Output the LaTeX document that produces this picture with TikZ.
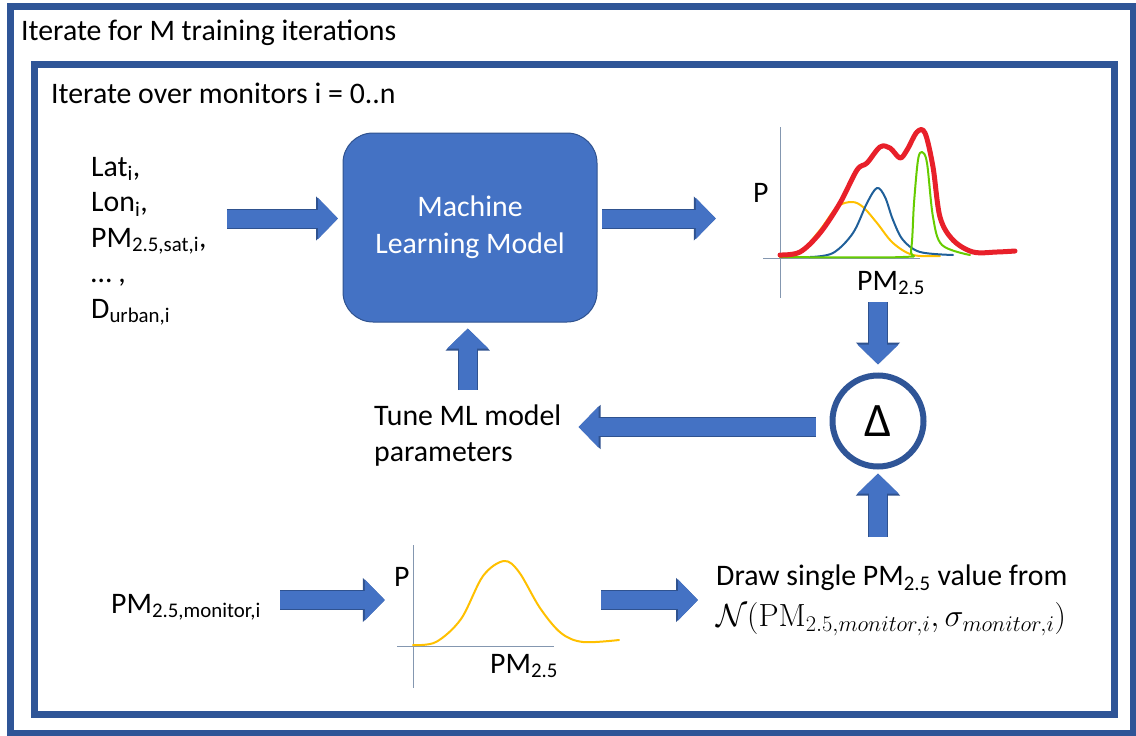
\documentclass[tikz,border=0pt]{standalone}
\usepackage{fix-cm}
\usepackage[no-math]{fontspec}
\setmainfont{Carlito}
\usetikzlibrary{arrows.meta}

\definecolor{frameblue}{HTML}{2F5597}
\definecolor{boxblue}{HTML}{4472C4}
\definecolor{boxedge}{HTML}{2F528F}
\definecolor{axisgray}{HTML}{8497B0}
\definecolor{pdfred}{HTML}{E8202A}
\definecolor{pdfyellow}{HTML}{FFC000}
\definecolor{pdfblue}{HTML}{1F5F99}
\definecolor{pdfgreen}{HTML}{66CC00}

\begin{document}
\begin{tikzpicture}[
  x=1pt, y=-1pt,
  font=\fontsize{29.8}{35.5}\selectfont,
  loopframe/.style={draw=frameblue, line width=7pt},
  lbl/.style={inner sep=0pt, align=left},
  mlbox/.style={draw=boxedge, fill=boxblue, line width=1pt, rounded corners=30pt,
                minimum width=254pt, minimum height=189pt, text=white, align=center},
  blk/.style={line width=18pt, draw=boxblue, -{Triangle[length=20pt,width=40pt]},
              preaction={draw=boxedge, line width=20pt, -{Triangle[length=22pt,width=43pt]}}},
  pdfaxis/.style={draw=axisgray, line width=1pt},
  density/.style={smooth, tension=0.55, line width=2pt, line cap=round, line join=round},
  plotarea/.style={inner sep=0pt, minimum width=#1},
]
\useasboundingbox (0,0) rectangle (1136,736);

% the two loops
\draw[loopframe] (10.5,6.5) rectangle (1133,733.5);
\draw[loopframe] (34.5,64.5) rectangle (1114.5,714.5);
\node[lbl, anchor=base west] (epochs)   at (21,40)  {Iterate for M training iterations};
\node[lbl, anchor=base west] (monitors) at (51,103) {Iterate over monitors i = 0..n};

% features and model
\node[lbl, anchor=north west] (feat) at (91,157)
  {Lat\textsubscript{i},\\Lon\textsubscript{i},\\PM\textsubscript{2.5,sat,i},\\… ,\\D\textsubscript{urban,i}};
\node[mlbox] (ml) at (470,227.5) {Machine\\[1.5pt]Learning Model};
\coordinate (mlin)  at ([yshift=9pt]ml.west);
\coordinate (mlout) at ([yshift=9pt]ml.east);

% predicted distribution
\node[plotarea=304pt, minimum height=168pt] (dist) at (868,218) {};
\draw[pdfaxis] (780,127) -- (780,298);
\draw[pdfaxis] (763,258) -- (920,258);
\node[lbl, anchor=base west] (distp)  at (753,202) {P};
\node[lbl, anchor=base west] (distpm) at (857,290) {PM\textsubscript{2.5}};
\draw[density, pdfyellow] plot coordinates {(780,257) (800,252) (820,230) (837,207) (852,202)
  (863,207) (877,223) (893,243) (913,255) (940,256)};
\draw[density, pdfblue] plot coordinates {(810,257) (833,253) (853,233) (867,203) (877,188)
  (885,197) (893,220) (903,240) (920,252) (953,255)};
\draw[density, pdfgreen] plot coordinates {(780,257) (903,257) (911,250) (914,203) (918,160)
  (922,152) (927,163) (933,217) (942,245) (970,255)};
\draw[density, pdfred, line width=5pt] plot coordinates {(780,255) (800,252) (820,233) (840,203)
  (857,170) (867,163) (880,147) (890,148) (900,158) (907,150) (917,132) (925,133) (933,167)
  (940,217) (953,240) (973,252) (997,252) (1015,251)};

% comparison and feedback
\node[draw=frameblue, line width=6pt, circle, minimum size=91pt, inner sep=0pt,
      font=\fontsize{48}{58}\selectfont] (delta) at (878,421) {Δ};
\node[lbl, anchor=north west] (tune) at (374,405) {Tune ML model\\parameters};

% monitor observation
\node[lbl, anchor=base west] (obs) at (111,613) {PM\textsubscript{2.5,monitor,i}};
\node[plotarea=216pt, minimum height=140pt] (obsdist) at (493,600) {};
\draw[pdfaxis] (413,545) -- (413,688);
\draw[pdfaxis] (397,646) -- (554,646);
\node[lbl, anchor=base west] (obsp)  at (394,586) {P};
\node[lbl, anchor=base west] (obspm) at (490,673) {PM\textsubscript{2.5}};
\draw[density, pdfyellow] plot coordinates {(413,645) (436,642) (461,619) (483,576) (504,561)
  (519,572) (540,608) (561,633) (583,642) (619,640)};
\node[lbl, anchor=north west] (sample) at (716,565)
  {Draw single PM\textsubscript{2.5} value from\\[5pt]
   \fontsize{32}{35.5}\selectfont$\mathcal{N}\bigl(\mathrm{PM}_{2.5,monitor,i},\sigma_{monitor,i}\bigr)$};

% block arrows
\draw[blk, shorten <=20pt, shorten >=4.5pt] (mlin -| feat.east) -- (mlin);
\draw[blk, shorten <=4.5pt] (mlout) -- (mlout -| dist.west);
\draw[blk, shorten >=8pt] (delta.north |- dist.south) -- (delta.north);
\draw[blk, shorten <=14pt, shorten >=17pt] ([yshift=-6pt]delta.west) -- ([yshift=-6pt]delta.west -| tune.east);
\draw[blk, shorten <=15pt, shorten >=6pt] (tune.north) -- (tune.north |- ml.south);
\draw[blk, shorten <=19pt] (obsdist.west -| obs.east) -- (obsdist.west);
\draw[blk, shorten >=18pt] (obsdist.east) -- (obsdist.east -| sample.west);
\draw[blk, shorten <=28pt, shorten >=4pt] (delta.south |- sample.north) -- (delta.south);
\end{tikzpicture}
\end{document}
